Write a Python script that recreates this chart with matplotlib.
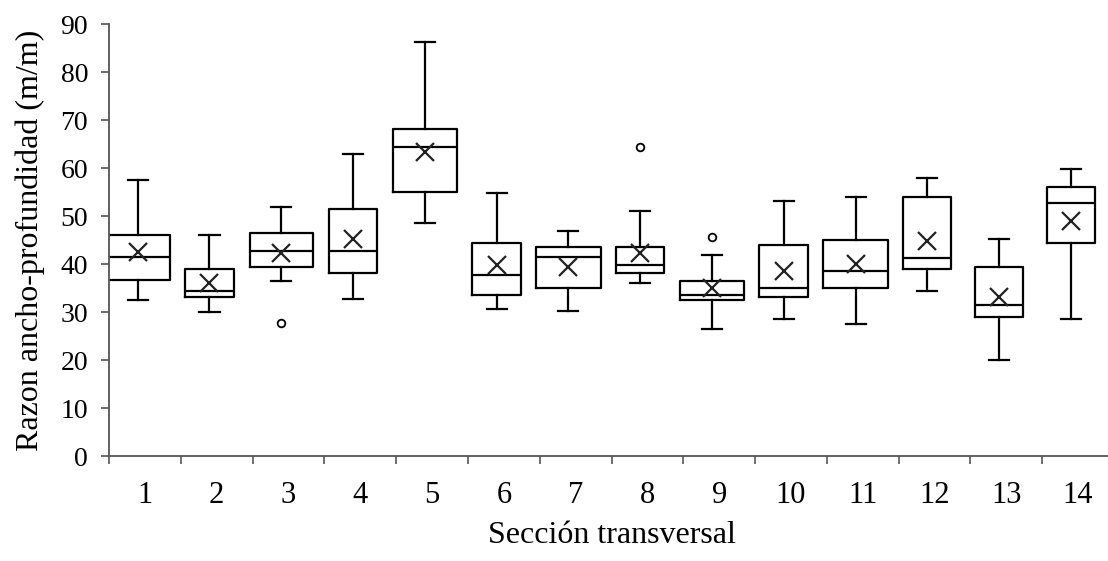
import numpy as np
import matplotlib.pyplot as plt
from matplotlib.ticker import MultipleLocator, FixedLocator

plt.rcParams['font.family'] = ['Liberation Serif', 'DejaVu Serif']

# Datos (razon ancho-profundidad por seccion)
secciones = ['1', '2', '3', '4', '5', '6', '7', '8', '9', '10', '11', '12', '13', '14']
whisker_low = [32.4, 29.9, 36.5, 32.7, 48.5, 30.7, 30.3, 36.0, 26.5, 28.6, 27.4, 34.4, 19.9, 28.6]
q1 = [36.6, 33.2, 39.3, 38.2, 55.1, 33.5, 34.9, 38.1, 32.4, 33.2, 34.9, 39.0, 29.0, 44.3]
mediana = [41.5, 34.4, 42.8, 42.8, 64.4, 37.7, 41.5, 39.8, 33.5, 34.9, 38.6, 41.2, 31.5, 52.8]
q3 = [46.0, 39.0, 46.5, 51.4, 68.1, 44.3, 43.5, 43.5, 36.5, 44.0, 44.9, 53.9, 39.4, 56.0]
whisker_high = [57.6, 46.0, 51.8, 62.9, 86.2, 54.7, 46.9, 51.0, 41.9, 53.1, 53.9, 58.0, 45.2, 59.7]
media = [42.6, 36.0, 42.2, 45.2, 63.4, 39.8, 39.4, 42.2, 35.1, 38.6, 40.1, 44.7, 33.2, 48.9]
atipicos = [[], [], [27.8], [], [], [], [], [64.4], [45.7], [], [], [], [], []]

# ancho de cada caja (en unidades de categoria)
anchos = [0.9, 0.67, 0.88, 0.68, 0.9, 0.68, 0.9, 0.67, 0.89, 0.68, 0.9, 0.67, 0.67, 0.67]

stats = []
for i in range(len(secciones)):
    stats.append({
        'whislo': whisker_low[i], 'q1': q1[i], 'med': mediana[i], 'q3': q3[i],
        'whishi': whisker_high[i], 'mean': media[i], 'fliers': atipicos[i],
        'label': secciones[i],
    })

fig = plt.figure(figsize=(11.08, 5.61), dpi=100)
ax = fig.add_axes([109 / 1108, 105 / 561, 1005 / 1108, 432 / 561])

pos = np.arange(1, len(secciones) + 1) - 0.1
lw = 1.6
ax.bxp(stats, positions=pos, widths=anchos, capwidths=0.28,
       showmeans=True, showfliers=True, patch_artist=False,
       boxprops=dict(color='black', linewidth=lw),
       whiskerprops=dict(color='black', linewidth=lw),
       capprops=dict(color='black', linewidth=lw),
       medianprops=dict(color='black', linewidth=lw),
       meanprops=dict(marker='x', markeredgecolor='#222222', markersize=13, markeredgewidth=1.6),
       flierprops=dict(marker='o', markerfacecolor='white', markeredgecolor='black',
                       markersize=5.5, markeredgewidth=1.3))

ax.set_xlim(0.5, len(secciones) + 0.5)
ax.set_ylim(0, 90)
ax.yaxis.set_major_locator(MultipleLocator(10))
ax.set_xticks(np.arange(1, len(secciones) + 1))
ax.set_xticklabels(secciones)
ax.xaxis.set_minor_locator(FixedLocator(np.arange(0.5, len(secciones) + 1, 1.0)))
ax.tick_params(axis='x', which='major', length=0, pad=18, labelsize=22)
ax.tick_params(axis='x', which='minor', length=6, width=1.2, color='#555555', direction='out')
ax.tick_params(axis='y', length=6, width=1.2, color='#555555', labelsize=20, pad=9)

for s in ['top', 'right']:
    ax.spines[s].set_visible(False)
for s in ['left', 'bottom']:
    ax.spines[s].set_color('#555555')
    ax.spines[s].set_linewidth(1.3)

ax.set_ylabel('Razon ancho-profundidad (m/m)', fontsize=23, labelpad=11)
ax.set_xlabel('Sección transversal', fontsize=23, labelpad=8)

fig.savefig('out.png', dpi=100)
